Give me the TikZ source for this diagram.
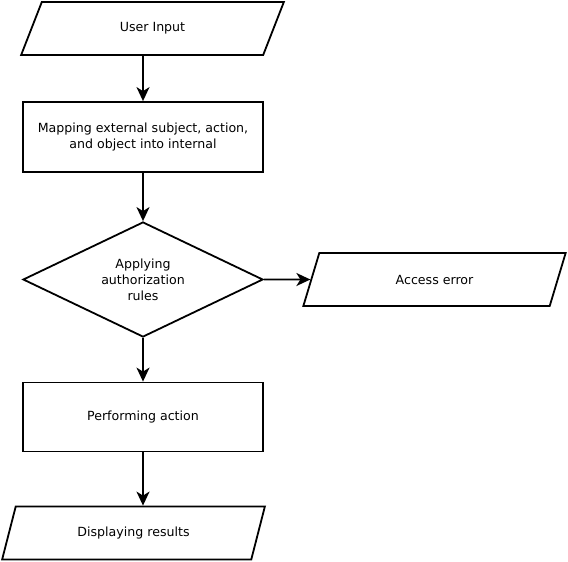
\documentclass[tikz,border=0pt]{standalone}
\usepackage{fontspec}
\setmainfont{DejaVu Sans}
\usetikzlibrary{shapes.geometric,arrows.meta}
\begin{document}
\begin{tikzpicture}[x=1pt, y=-1pt, >={Stealth[length=14pt,width=13pt,inset=4pt]},
  every node/.style={font=\fontsize{12.6}{16}\selectfont, line width=1.8pt, align=center},
  iobox/.style={draw, trapezium, trapezium left angle=70, trapezium right angle=110,
    trapezium stretches=true, minimum width=263pt, minimum height=53pt},
  procbox/.style={draw, rectangle, minimum width=240pt, minimum height=70pt},
  decbox/.style={draw, diamond, aspect=2, minimum width=240pt, minimum height=115pt, inner sep=0pt}]
\useasboundingbox (0,0) rectangle (568,562);
\node[iobox] (input) at (152.5,28.5) {User Input};
\node[procbox] (mapping) at (143,137) {Mapping external subject, action,\\and object into internal};
\node[decbox] (rules) at (143,279.5) {Applying\\authorization\\rules};
\node[iobox] (error) at (434.5,279.5) {Access error};
\node[procbox, minimum height=69pt] (action) at (143,417) {Performing action};
\node[iobox] (results) at (133.5,533) {Displaying results};

\draw[->, line width=1.8pt] (input.south -| mapping.north) -- (mapping.north);
\draw[->, line width=1.8pt] (mapping) -- (rules);
\draw[->, line width=1.8pt] (rules.east) -- (error.west);
\draw[->, line width=1.8pt] (rules) -- (action);
\draw[->, line width=1.8pt] (action.south) -- (action.south |- results.north);
\end{tikzpicture}
\end{document}
